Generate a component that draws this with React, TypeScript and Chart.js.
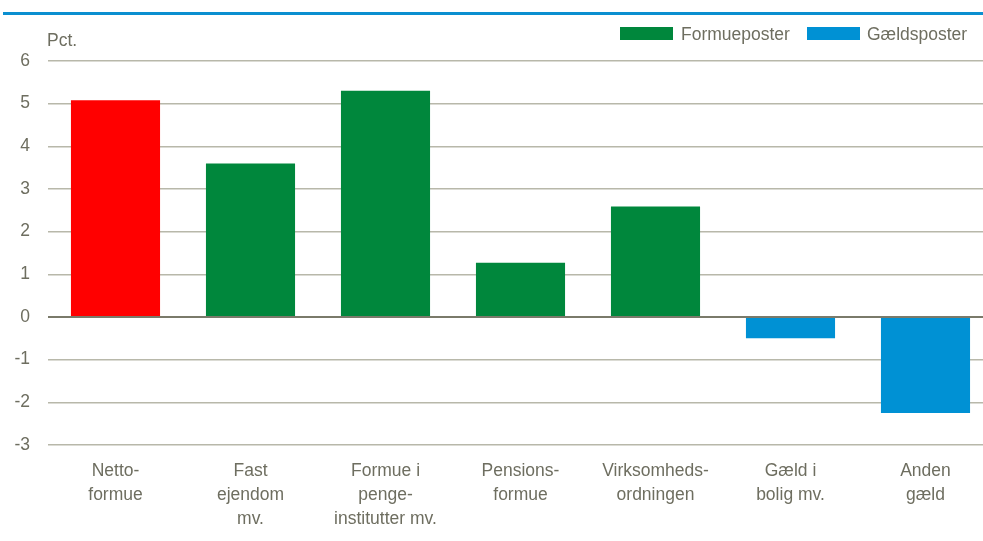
import React, { useEffect, useRef } from "react";
import { Chart, registerables } from "chart.js";

Chart.register(...registerables);

const categories: string[][] = [
  ["Netto-", "formue"],
  ["Fast", "ejendom", "mv."],
  ["Formue i", "penge-", "institutter mv."],
  ["Pensions-", "formue"],
  ["Virksomheds-", "ordningen"],
  ["Gæld i", "bolig mv."],
  ["Anden", "gæld"],
];
const values: number[] = [5.08, 3.6, 5.3, 1.27, 2.59, -0.5, -2.25];
const groups: string[] = ["netto", "formue", "formue", "formue", "formue", "gaeld", "gaeld"];
const legendLabels: string[] = ["Formueposter", "Gældsposter"];
const yUnit = "Pct.";

const RED = "#ff0000";
const GREEN = "#00873c";
const BLUE = "#0091d4";
const TEXT = "#6e6e60";
const FONT = "'Liberation Sans', Arial, sans-serif";

export default function App() {
  const ref = useRef<HTMLCanvasElement | null>(null);

  useEffect(() => {
    document.body.style.overflow = "hidden";
    const colors = groups.map((g) => (g === "netto" ? RED : g === "formue" ? GREEN : BLUE));
    const chart = new Chart(ref.current as HTMLCanvasElement, {
      type: "bar",
      data: {
        labels: categories,
        datasets: [
          {
            data: values,
            backgroundColor: colors,
            borderWidth: 0,
            categoryPercentage: 1,
            barPercentage: 0.66,
          },
        ],
      },
      options: {
        animation: false,
        responsive: true,
        maintainAspectRatio: false,
        layout: { padding: { top: 61, left: 0, right: 7, bottom: 0 } },
        plugins: {
          legend: { display: false },
          tooltip: { enabled: false },
        },
        scales: {
          x: {
            grid: { display: false, drawTicks: false },
            border: { display: false },
            ticks: {
              color: TEXT,
              font: { family: FONT, size: 17.5, lineHeight: 1.38 },
              padding: 14,
              maxRotation: 0,
              autoSkip: false,
            },
            afterFit: (scale: any) => {
              scale.height = 96;
            },
          },
          y: {
            min: -3,
            max: 6,
            grid: {
              drawTicks: false,
              color: (ctx: any) => (ctx.tick && ctx.tick.value === 0 ? "#7a7a6a" : "#b8b8aa"),
              lineWidth: (ctx: any) => (ctx.tick && ctx.tick.value === 0 ? 2 : 1.5),
            },
            border: { display: false },
            ticks: {
              stepSize: 1,
              color: TEXT,
              font: { family: FONT, size: 17.5 },
              padding: 18,
            },
            afterFit: (scale: any) => {
              scale.width = 48;
            },
          },
        },
      },
    });
    return () => chart.destroy();
  }, []);

  const textStyle: React.CSSProperties = {
    position: "absolute",
    fontFamily: FONT,
    fontSize: 17.5,
    color: TEXT,
    lineHeight: "20px",
    whiteSpace: "nowrap",
  };

  return (
    <div
      style={{
        position: "fixed",
        left: 0,
        top: 0,
        width: 1000,
        height: 541,
        background: "#fff",
      }}
    >
      <div
        style={{
          position: "absolute",
          left: 3,
          top: 12,
          width: 997,
          height: 3,
          background: "#0a8fd0",
        }}
      />
      <canvas ref={ref} style={{ position: "absolute", left: 0, top: 0 }} />
      <div style={{ ...textStyle, left: 47, top: 30 }}>{yUnit}</div>
      <div style={{ position: "absolute", left: 620, top: 27, width: 53, height: 13, background: GREEN }} />
      <div style={{ ...textStyle, left: 681, top: 24 }}>{legendLabels[0]}</div>
      <div style={{ position: "absolute", left: 807, top: 27, width: 53, height: 13, background: BLUE }} />
      <div style={{ ...textStyle, left: 867, top: 24 }}>{legendLabels[1]}</div>
    </div>
  );
}
